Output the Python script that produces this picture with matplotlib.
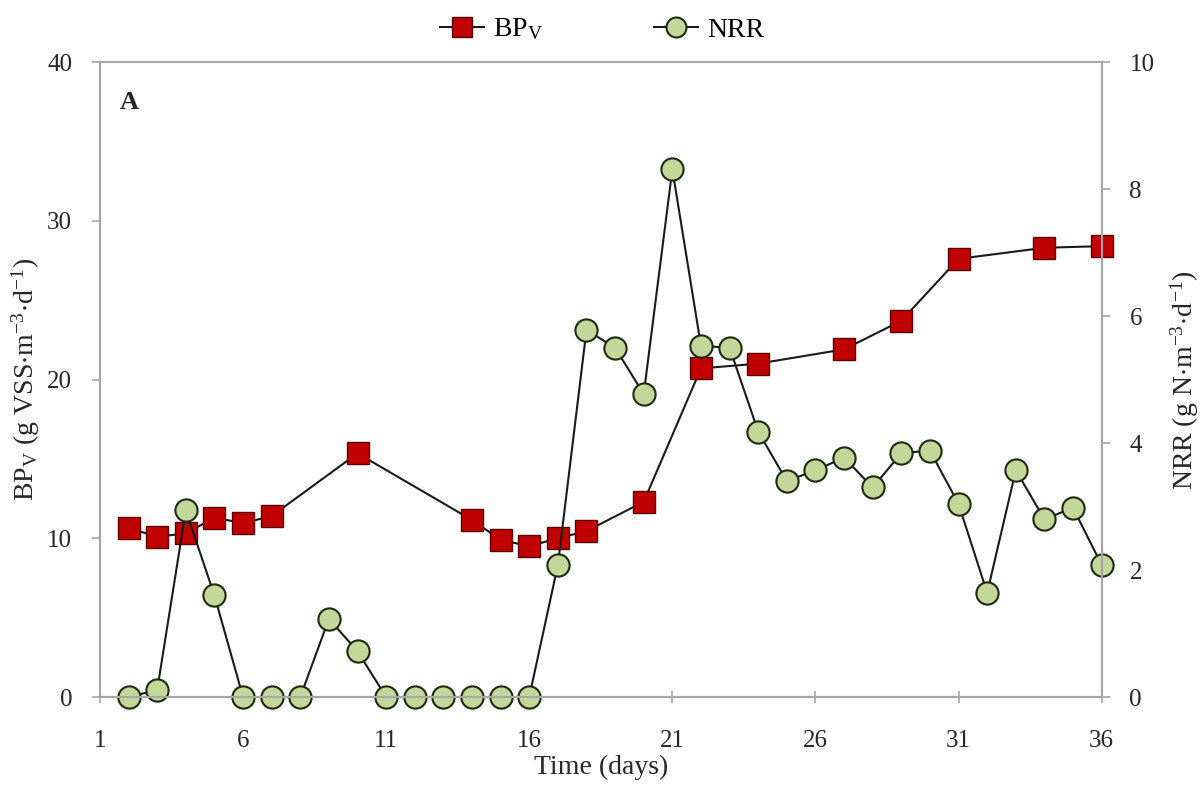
import numpy as np
import matplotlib.pyplot as plt

plt.rcParams['font.family'] = ['Liberation Serif', 'DejaVu Serif']
plt.rcParams['mathtext.fontset'] = 'stix'

# volumetric biomass production (left axis)
bp_days = [2, 3, 4, 5, 6, 7, 10, 14, 15, 16, 17, 18, 20, 22, 24, 27, 29, 31, 34, 36]
bp_vals = [10.65, 10.1, 10.3, 11.3, 10.95, 11.4, 15.35, 11.15, 9.9, 9.5,
           10.0, 10.45, 12.3, 20.7, 21.0, 21.9, 23.7, 27.6, 28.3, 28.4]

# nitrogen removal rate (right axis)
nrr_days = list(range(2, 37))
nrr_vals = [0.0, 0.11, 2.94, 1.6, 0.0, 0.0, 0.0, 1.23, 0.72, 0.0,
            0.0, 0.0, 0.0, 0.0, 0.0, 2.08, 5.78, 5.5, 4.77, 8.31,
            5.53, 5.5, 4.18, 3.4, 3.57, 3.77, 3.3, 3.84, 3.88, 3.04,
            1.64, 3.57, 2.8, 2.98, 2.08]

x_ticks = [1, 6, 11, 16, 21, 26, 31, 36]

fig = plt.figure(figsize=(12.04, 7.89), dpi=100)
ax = fig.add_axes([0.083, 0.1166, 0.832, 0.8048])
ax2 = ax.twinx()

grey = '#a6a6a6'

l1, = ax.plot(bp_days, bp_vals, color='#1a1a1a', lw=1.5, marker='s',
              markersize=16, markerfacecolor='#c00000', markeredgecolor='#5a0000',
              markeredgewidth=1.0, label='BP$_\\mathregular{V}$')
l2, = ax2.plot(nrr_days, nrr_vals, color='#1a1a1a', lw=1.5, marker='o',
               markersize=16, markerfacecolor='#c4d79b', markeredgecolor='#1e2a10',
               markeredgewidth=1.5, label='NRR')

ax.set_xlim(1, 36)
ax.set_ylim(0, 40)
ax2.set_ylim(0, 10)
ax.set_xticks(x_ticks)
ax.set_yticks(np.arange(0, 41, 10))
ax2.set_yticks(np.arange(0, 11, 2))

for a in (ax, ax2):
    for s in a.spines.values():
        s.set_color(grey)
        s.set_linewidth(1.5)
    a.tick_params(colors=grey, labelcolor='#262626', labelsize=18, width=1.2, length=6)
ax.tick_params(axis='x', direction='inout', length=8, pad=20)
ax.tick_params(axis='y', direction='out', pad=14)
ax2.tick_params(axis='y', direction='out', pad=14)
l1.set_clip_on(False)
l2.set_clip_on(False)

ax.set_xlabel('Time (days)', fontsize=20, color='#262626', labelpad=2)
ax.set_ylabel('BP$_\\mathregular{V}$ (g VSS$\\cdot$m$^\\mathregular{-3}$$\\cdot$d$^\\mathregular{-1}$)',
              fontsize=20, color='#262626', labelpad=4)
ax2.set_ylabel('NRR (g N$\\cdot$m$^\\mathregular{-3}$$\\cdot$d$^\\mathregular{-1}$)',
               fontsize=20, color='#262626', labelpad=10)

ax.text(0.02, 0.955, 'A', transform=ax.transAxes, fontsize=19,
        fontweight='bold', va='top', color='#262626')

fig.legend(handles=[l1, l2], loc='upper center', bbox_to_anchor=(0.5, 1.01),
           ncol=2, frameon=False, fontsize=20, markerscale=0.9,
           handlelength=1.6, columnspacing=4, handletextpad=0.3)

fig.savefig('out.png', dpi=100)
